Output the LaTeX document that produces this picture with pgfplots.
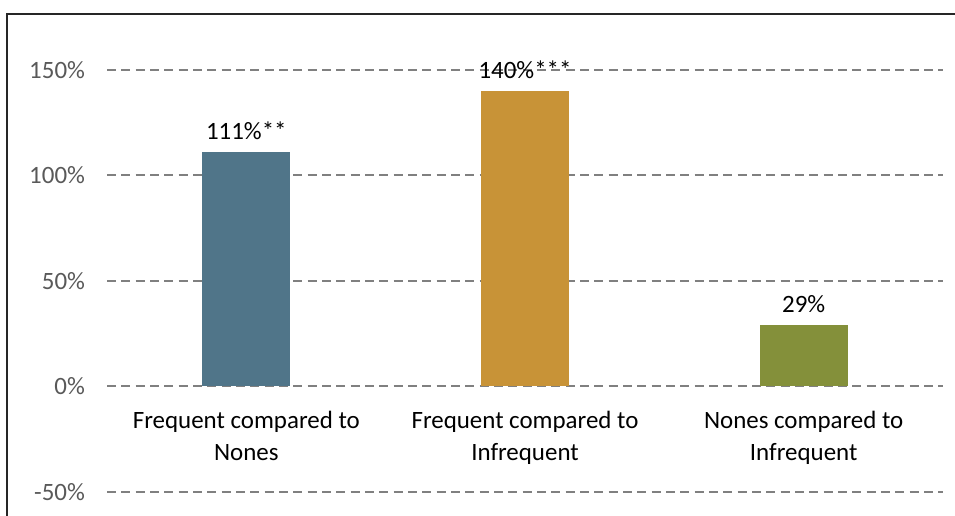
\documentclass[border=0pt]{standalone}
\usepackage{fontspec}
\setmainfont{Carlito}
\usepackage{pgfplots}
\pgfplotsset{compat=1.18}
\definecolor{c1}{RGB}{80,117,137}
\definecolor{c2}{RGB}{200,147,55}
\definecolor{c3}{RGB}{132,144,58}
\definecolor{tickgray}{RGB}{89,89,89}
\begin{document}
\begin{tikzpicture}
\useasboundingbox (0,0) rectangle (716.25pt,387pt);
\draw[line width=1.1pt, black!85] (5.25pt,-10pt) -- (5.25pt,376.5pt) -- (730pt,376.5pt);
\begin{axis}[
  at={(80.25pt,18pt)}, anchor=south west,
  scale only axis, width=627pt, height=316.5pt,
  xmin=-0.5, xmax=2.5, ymin=-50, ymax=150,
  axis line style={draw=none},
  major tick length=0pt,
  ytick={-50,0,50,100,150},
  yticklabel={\pgfmathprintnumber{\tick}\%},
  /pgf/number format/assume math mode=true,
  yticklabel style={font=\fontsize{18.7}{22}\selectfont, text=tickgray, xshift=-13pt},
  xtick={0,1,2},
  xticklabels={Frequent compared to\\Nones, Frequent compared to\\Infrequent, Nones compared to\\Infrequent},
  xticklabel style={font=\fontsize{18.7}{24}\selectfont, align=center, yshift=64pt},
  ymajorgrids,
  grid style={dash pattern=on 6.75pt off 4pt, line width=1.5pt, gray},
  ybar, bar width=66pt,
  point meta=explicit symbolic,
  nodes near coords,
  nodes near coords style={font=\fontsize{18.7}{22}\selectfont, black, anchor=south, yshift=6pt},
  clip=false,
]
\addplot[fill=c1, draw=none, bar shift=0pt] coordinates {(0,111) [111\%**]};
\addplot[fill=c2, draw=none, bar shift=0pt] coordinates {(1,140) [140\%***]};
\addplot[fill=c3, draw=none, bar shift=0pt] coordinates {(2,29) [29\%]};
\end{axis}
\end{tikzpicture}
\end{document}
